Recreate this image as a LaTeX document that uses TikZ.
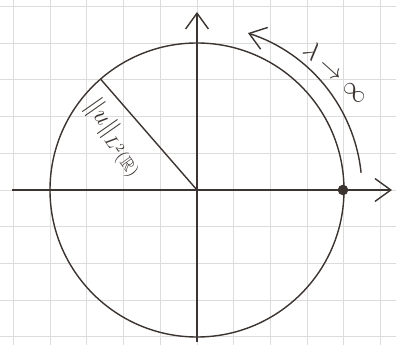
\documentclass[tikz,border=0pt]{standalone}
\usepackage{amsmath}
\usepackage{amssymb}
\usetikzlibrary{arrows.meta, calc}
\definecolor{pencil}{RGB}{60, 52, 48}
\definecolor{gridgrey}{RGB}{220, 220, 220}
\tikzstyle{sketch} = [draw=pencil, line width=0.8pt]
\tikzstyle{axis} = [sketch, -{Straight Barb[length=9pt, width=13pt]}]
\tikzstyle{paper} = [draw=gridgrey, line width=0.5pt]
\tikzstyle{dot} = [circle, fill=pencil, inner sep=0pt, minimum size=6pt]

\begin{document}
\begin{tikzpicture}[x=0.02cm, y=0.02cm]
  \useasboundingbox (0,0) rectangle (396,345);
  % squared paper
  \foreach \k in {-5,...,5} \draw[paper] ({197+36.7*\k},0) -- ({197+36.7*\k},345);
  \foreach \k in {-4,...,5} \draw[paper] (0,{155+36.7*\k}) -- (396,{155+36.7*\k});
  \coordinate (o) at (197,155);
  \coordinate (xmin) at (12,155);
  \coordinate (xmax) at (392,155);
  \coordinate (ymin) at (197,3);
  \coordinate (ymax) at (197,333);
  \draw[axis] (xmin) -- (xmax);
  \draw[axis] (ymin) -- (ymax);
  \draw[sketch] (o) circle[radius=147];
  \coordinate (rim) at ($(o)+(131:147)$);
  \draw[sketch] (o) -- (rim);
  \node[dot] (pt) at ($(o)+(0:146)$) {};
  \node[font=\Large, text=pencil, rotate=-55] (norm) at (114,207) {$\|u\|_{L^2(\mathbb{R})}$};
  % the point runs round the circle
  \draw[axis] ($(o)+(6:165)$) coordinate (from) arc[start angle=6, end angle=72, radius=165];
  \node[font=\Large, text=pencil, rotate=-42] (lim) at (337,273) {$\lambda\to\infty$};
\end{tikzpicture}
\end{document}
